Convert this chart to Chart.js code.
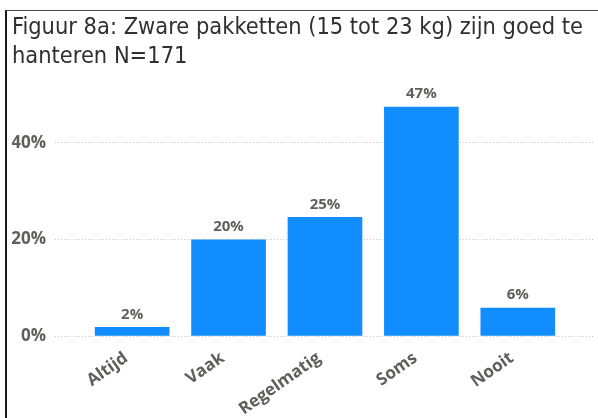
<!DOCTYPE html>
<html>
<head>
<meta charset="utf-8">
<title>Figuur 8a</title>
<script src="https://cdn.jsdelivr.net/npm/chart.js@4.4.1/dist/chart.umd.min.js"></script>
<style>
  html, body { margin: 0; padding: 0; background: #fff; }
  #wrap { position: relative; width: 598px; height: 418px; overflow: hidden; }
  #wrap canvas { display: block; }
  /* half-open frame round the visual, as in the report */
  #frame {
    position: absolute; left: 5px; top: 10px; right: 0; bottom: 0;
    border-top: 1px solid #4a4a4a; border-left: 2px solid #1a1a1a;
    pointer-events: none;
  }
</style>
</head>
<body>
<div id="wrap">
  <canvas id="chart" width="598" height="418"></canvas>
  <div id="frame"></div>
</div>
<script>
(function(){
  'use strict';

  // Data (share of respondents, %)
  const categories = ['Altijd', 'Vaak', 'Regelmatig', 'Soms', 'Nooit'];
  const shares = [1.8, 19.9, 24.6, 47.4, 5.8];
  const yTicks = [0, 20, 40];
  const titleLines = ['Figuur 8a: Zware pakketten (15 tot 23 kg) zijn goed te', 'hanteren N=171'];

  const BLUE = '#118DFF';
  const GREY = '#605E5C';
  const AXIS_FONT = { family: '"Open Sans", sans-serif', size: 17, weight: 'bold' };

  // Percent labels above the bars
  const valueLabels = {
    id: 'valueLabels',
    afterDatasetsDraw(chart){
      const ctx = chart.ctx;
      const meta = chart.getDatasetMeta(0);
      ctx.save();
      ctx.font = 'bold 15px "Open Sans", sans-serif';
      ctx.fillStyle = GREY;
      ctx.textAlign = 'center';
      ctx.textBaseline = 'middle';
      meta.data.forEach((bar, i) => {
        ctx.fillText(Math.round(shares[i]) + '%', bar.x, bar.y - 13);
      });
      ctx.restore();
    }
  };

  const el = document.getElementById('chart');

  try {
    new Chart(el, {
      type: 'bar',
      data: {
        datasets: [{
          data: shares.map((v, i) => ({ x: i, y: v })),
          backgroundColor: BLUE,
          borderWidth: 0,
          barThickness: 74
        }]
      },
      options: {
        responsive: false,
        animation: false,
        layout: { padding: { left: 12, right: 5, top: 14, bottom: 0 } },
        plugins: {
          legend: { display: false },
          tooltip: { enabled: false },
          title: {
            display: true,
            text: titleLines,
            align: 'start',
            color: '#303030',
            font: { family: '"DejaVu Sans Condensed", "DejaVu Sans", sans-serif', size: 23.4, weight: 'normal', lineHeight: 1.21 },
            padding: { top: 0, bottom: 24 }
          }
        },
        scales: {
          x: {
            type: 'linear',
            offset: false,
            min: -0.8,
            max: 4.78,
            afterBuildTicks: (scale) => {
              scale.ticks = categories.map((_, i) => ({ value: i }));
            },
            afterFit: (scale) => { scale.height = 82; },
            ticks: {
              autoSkip: false,
              minRotation: 35,
              maxRotation: 35,
              padding: 4,
              labelOffset: -6,
              color: GREY,
              font: AXIS_FONT,
              callback: (v) => categories[v]
            },
            grid: { display: false },
            border: { display: false }
          },
          y: {
            min: 0,
            max: 50,
            afterBuildTicks: (scale) => {
              scale.ticks = yTicks.map(v => ({ value: v }));
            },
            afterFit: (scale) => { scale.width = 43; },
            ticks: {
              padding: 9,
              color: GREY,
              font: AXIS_FONT,
              callback: (v) => v + '%'
            },
            grid: { color: '#C8C6C4', lineWidth: 1, drawTicks: false },
            border: { display: false, dash: [1, 2] }
          }
        }
      },
      plugins: [valueLabels]
    });
  } catch(err) {
    console.error('Chart error:', err);
  }
})();
</script>
</body>
</html>
